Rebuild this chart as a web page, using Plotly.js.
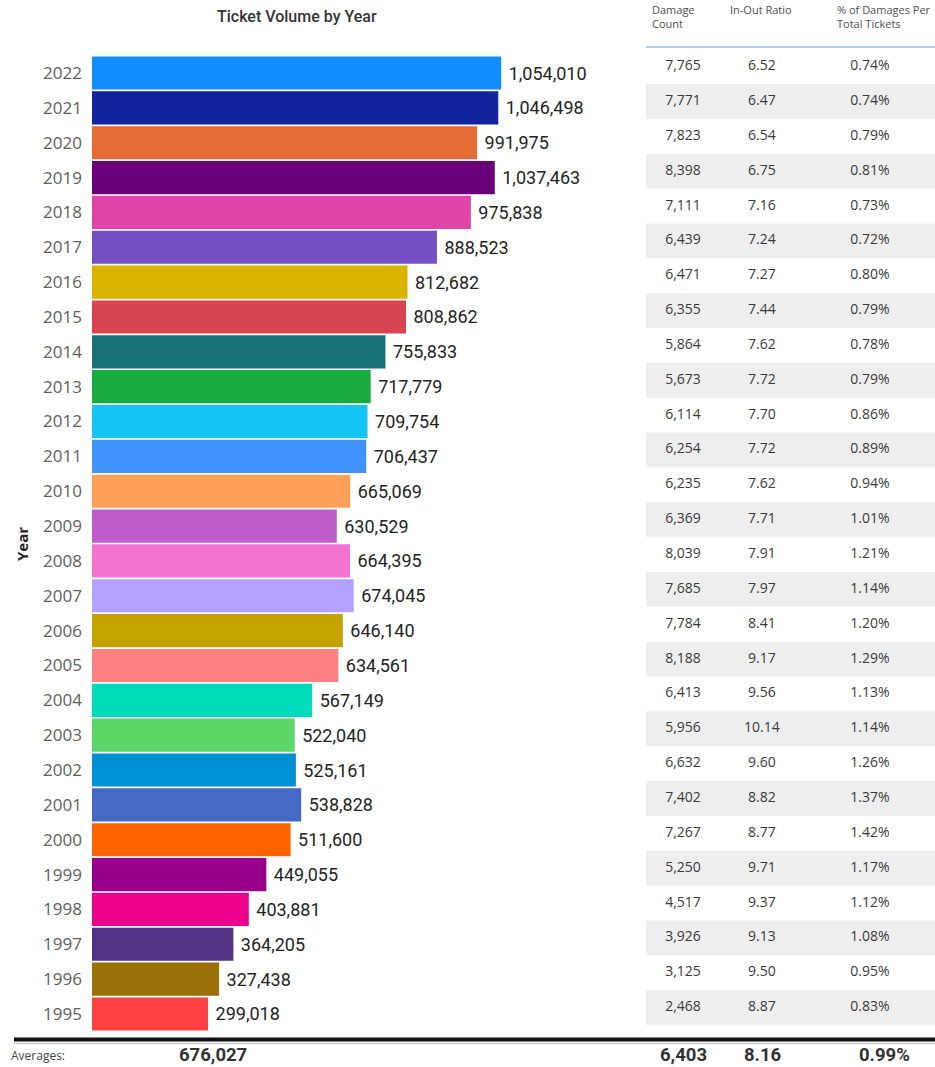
<!DOCTYPE html>
<html>
<head>
<meta charset="utf-8">
<script src="https://cdn.plot.ly/plotly-3.0.1.min.js"></script>
<style>
  html, body { margin: 0; padding: 0; background: #fff; }
  #chart { width: 935px; height: 1067px; }
</style>
</head>
<body>
<div id="chart"></div>
<script>
// --- Data (top row first) ---
const years = ['2022', '2021', '2020', '2019', '2018', '2017', '2016', '2015', '2014', '2013',
    '2012', '2011', '2010', '2009', '2008', '2007', '2006', '2005', '2004', '2003',
    '2002', '2001', '2000', '1999', '1998', '1997', '1996', '1995'];

const tickets = [1054010, 1046498, 991975, 1037463, 975838, 888523, 812682, 808862, 755833, 717779,
    709754, 706437, 665069, 630529, 664395, 674045, 646140, 634561, 567149, 522040,
    525161, 538828, 511600, 449055, 403881, 364205, 327438, 299018];

const damageCount = [7765, 7771, 7823, 8398, 7111, 6439, 6471, 6355, 5864, 5673,
    6114, 6254, 6235, 6369, 8039, 7685, 7784, 8188, 6413, 5956,
    6632, 7402, 7267, 5250, 4517, 3926, 3125, 2468];

const inOutRatio = [6.52, 6.47, 6.54, 6.75, 7.16, 7.24, 7.27, 7.44, 7.62, 7.72,
    7.70, 7.72, 7.62, 7.71, 7.91, 7.97, 8.41, 9.17, 9.56, 10.14,
    9.60, 8.82, 8.77, 9.71, 9.37, 9.13, 9.50, 8.87];

const damagePct = [0.74, 0.74, 0.79, 0.81, 0.73, 0.72, 0.80, 0.79, 0.78, 0.79,
    0.86, 0.89, 0.94, 1.01, 1.21, 1.14, 1.20, 1.29, 1.13, 1.14,
    1.26, 1.37, 1.42, 1.17, 1.12, 1.08, 0.95, 0.83];

const tableHeaders = ['Damage<br>Count', 'In-Out Ratio', '% of Damages Per<br>Total Tickets'];
const averageLabels = ['676,027', '6,403', '8.16', '0.99%'];

// Power BI default palette, one colour per year
const barColors = ['#118DFF', '#12239E', '#E66C37', '#6B007B', '#E044A7', '#744EC2', '#D9B300',
    '#D64550', '#197278', '#1AAB40', '#15C6F4', '#4092FF', '#FFA058', '#BE5DC9',
    '#F472D0', '#B5A1FF', '#C4A200', '#FF8080', '#00DBBC', '#5BD667', '#0091D5',
    '#4668C5', '#FF6300', '#99008A', '#EC008C', '#533285', '#99700A', '#FF4141'];

// --- helpers ---
const W = 935, H = 1067;
const px = x => x / W;
const py = y => 1 - y / H;
const fmt = n => n.toLocaleString('en-US');

// table column centres on the x2 axis (0..1 across the table)
const colX = [0.128, 0.401, 0.775];
const cellFont = { family: 'Open Sans, sans-serif', size: 14, color: '#3a3a3a' };

const barTrace = {
    type: 'bar',
    orientation: 'h',
    x: tickets,
    y: years,
    marker: { color: barColors },
    text: tickets.map(v => '\u00a0' + fmt(v)),
    textposition: 'outside',
    constraintext: 'none',
    cliponaxis: false,
    textfont: { family: 'Roboto, sans-serif', size: 18, color: '#252423' },
    hoverinfo: 'y+x'
};

// alternating grey row bands for the table
const bandTrace = {
    type: 'bar',
    orientation: 'h',
    x: years.map((_, i) => (i % 2 ? 1 : 0)),
    y: years,
    base: 0,
    width: 1,
    xaxis: 'x2',
    yaxis: 'y2',
    marker: { color: '#eeeeee', line: { width: 0 } },
    hoverinfo: 'skip'
};

const columns = [
    damageCount.map(fmt),
    inOutRatio.map(v => v.toFixed(2)),
    damagePct.map(v => v.toFixed(2) + '%')
];

const textTraces = columns.map((vals, c) => ({
    type: 'scatter',
    mode: 'text',
    x: years.map(() => colX[c]),
    y: years,
    text: vals,
    textposition: 'middle center',
    textfont: cellFont,
    xaxis: 'x2',
    yaxis: 'y2',
    cliponaxis: false,
    hoverinfo: 'text'
}));

const annotations = [
    {
        text: 'Ticket Volume by Year', x: px(297), y: py(17), xref: 'paper', yref: 'paper',
        xanchor: 'center', yanchor: 'middle', showarrow: false,
        font: { family: 'Roboto, sans-serif', size: 16, color: '#333333', weight: 500 }
    },
    {
        text: '<b>Year</b>', x: px(22), y: py(544), xref: 'paper', yref: 'paper', textangle: -90,
        xanchor: 'center', yanchor: 'middle', showarrow: false,
        font: { family: 'Open Sans, sans-serif', size: 15, color: '#252423' }
    },
    {
        text: 'Averages:', x: px(9), y: py(1055), xref: 'paper', yref: 'paper',
        xanchor: 'left', yanchor: 'middle', showarrow: false,
        font: { family: 'Open Sans, sans-serif', size: 12, color: '#444444' }
    }
];

// table headers
[650, 728, 835].forEach((x, i) => {
    annotations.push({
        text: tableHeaders[i], x: px(x), y: py(0), xref: 'paper', yref: 'paper',
        xanchor: 'left', yanchor: 'top', align: 'left', showarrow: false,
        font: { family: 'Open Sans, sans-serif', size: 11, color: '#505050' }
    });
});

// averages row
[213, 683, 762, 884].forEach((x, i) => {
    annotations.push({
        text: '<b>' + averageLabels[i] + '</b>', x: px(x), y: py(1055), xref: 'paper', yref: 'paper',
        xanchor: 'center', yanchor: 'middle', showarrow: false, borderpad: 0,
        font: { family: 'Roboto, sans-serif', size: 18.5, color: '#333333' }
    });
});

const layout = {
    width: W,
    height: H,
    margin: { l: 0, r: 0, t: 0, b: 0 },
    paper_bgcolor: '#ffffff',
    plot_bgcolor: 'rgba(0,0,0,0)',
    showlegend: false,
    bargap: 0.05,
    xaxis: {
        domain: [px(92), px(620)],
        range: [0, 1360000],
        visible: false,
        fixedrange: true
    },
    yaxis: {
        type: 'category',
        domain: [py(1031.4), py(55.6)],
        range: [27.5, -0.5],
        showgrid: false,
        zeroline: false,
        ticks: '',
        ticklabelstandoff: 9,
        tickfont: { family: 'Open Sans, sans-serif', size: 17, color: '#605E5C' },
        automargin: false,
        fixedrange: true
    },
    xaxis2: {
        domain: [px(646), 1],
        range: [0, 1],
        anchor: 'y2',
        visible: false,
        fixedrange: true
    },
    yaxis2: {
        type: 'category',
        domain: [py(1025), py(49.2)],
        range: [27.5, -0.5],
        anchor: 'x2',
        visible: false,
        fixedrange: true
    },
    shapes: [
        { type: 'line', xref: 'paper', yref: 'paper', x0: px(646), x1: 1, y0: py(47), y1: py(47),
          line: { color: '#8ec1f0', width: 1.5 } },
        { type: 'line', xref: 'paper', yref: 'paper', x0: px(14), x1: 1, y0: py(1039.5), y1: py(1039.5),
          line: { color: '#111111', width: 4 } },
        { type: 'line', xref: 'paper', yref: 'paper', x0: px(14), x1: 1, y0: py(1043.5), y1: py(1043.5),
          line: { color: '#c8c8c8', width: 1.5 } }
    ],
    annotations: annotations
};

Plotly.newPlot('chart', [bandTrace, barTrace].concat(textTraces), layout, { displayModeBar: false, staticPlot: true });
</script>
</body>
</html>
